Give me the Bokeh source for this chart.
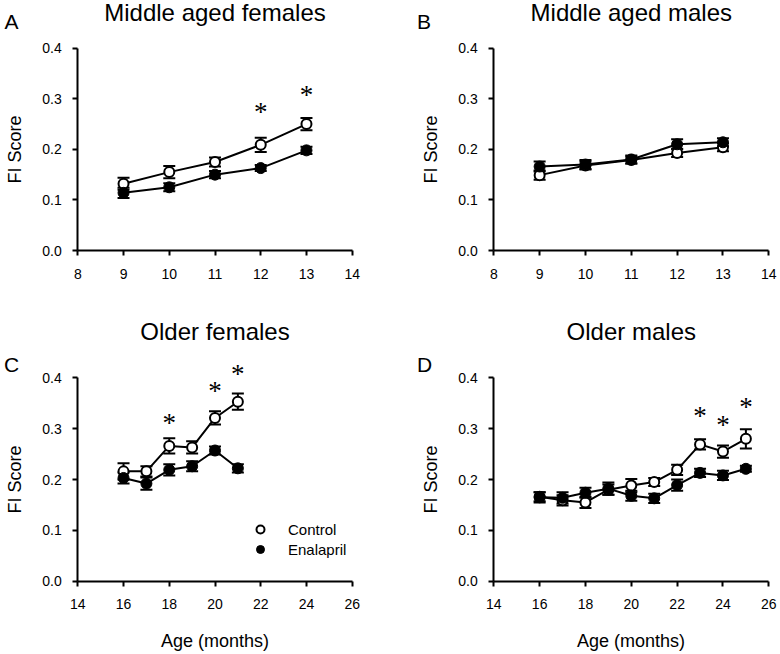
from bokeh.plotting import figure
from bokeh.models import (ColumnDataSource, Whisker, TeeHead, Label, LabelSet, Range1d,
                          FixedTicker, PrintfTickFormatter, Legend, LegendItem, LinearAxis)
from bokeh.layouts import gridplot
from bokeh.embed import file_html
from bokeh.resources import INLINE

FONT = "Liberation Sans"

# ---------------- data ----------------
# A: Middle aged females
a_age = [9, 10, 11, 12, 13]
a_ctrl = [0.132, 0.155, 0.175, 0.209, 0.250]
a_ctrl_err = [0.012, 0.012, 0.009, 0.014, 0.012]
a_enal = [0.114, 0.125, 0.150, 0.163, 0.198]
a_enal_err = [0.010, 0.008, 0.007, 0.006, 0.007]
a_sig_x = [12, 13]
a_sig_y = [0.277, 0.311]

# B: Middle aged males
b_age = [9, 10, 11, 12, 13]
b_ctrl = [0.149, 0.168, 0.179, 0.193, 0.204]
b_ctrl_err = [0.009, 0.008, 0.007, 0.008, 0.008]
b_enal = [0.166, 0.170, 0.180, 0.210, 0.214]
b_enal_err = [0.010, 0.009, 0.008, 0.010, 0.008]
b_sig_x = []
b_sig_y = []

# C: Older females
c_age = [16, 17, 18, 19, 20, 21]
c_ctrl = [0.216, 0.216, 0.266, 0.263, 0.321, 0.353]
c_ctrl_err = [0.016, 0.010, 0.015, 0.012, 0.013, 0.016]
c_enal = [0.203, 0.192, 0.219, 0.226, 0.257, 0.222]
c_enal_err = [0.011, 0.012, 0.011, 0.010, 0.008, 0.008]
c_sig_x = [18, 20, 21]
c_sig_y = [0.316, 0.378, 0.411]

# D: Older males
d_age = [16, 17, 18, 19, 20, 21, 22, 23, 24, 25]
d_ctrl = [0.166, 0.159, 0.155, 0.180, 0.188, 0.195, 0.219, 0.269, 0.255, 0.280]
d_ctrl_err = [0.009, 0.010, 0.011, 0.010, 0.013, 0.008, 0.010, 0.010, 0.012, 0.019]
d_enal = [0.165, 0.164, 0.174, 0.182, 0.168, 0.163, 0.189, 0.213, 0.208, 0.221]
d_enal_err = [0.010, 0.011, 0.010, 0.012, 0.010, 0.009, 0.011, 0.008, 0.009, 0.006]
d_sig_x = [23, 24, 25]
d_sig_y = [0.329, 0.311, 0.346]

y_ticks = [0.0, 0.1, 0.2, 0.3, 0.4]
x_ticks_mid = [8, 9, 10, 11, 12, 13, 14]
x_ticks_old = [14, 16, 18, 20, 22, 24, 26]
x_bounds_mid = (8, 14)
x_bounds_old = (14, 26)
y_bounds = (0.0, 0.4)

titles = ["Middle aged females", "Middle aged males", "Older females", "Older males"]
letters = ["A", "B", "C", "D"]
legend_labels = ["Control", "Enalapril"]
y_label = "FI Score"
x_label = "Age (months)"

# ---------------- layout (pixels) ----------------
W = 390
H_TOP, H_BOT = 314, 340


def px_range(v0, v1, p0, p1, size, flip=False):
    """Range whose values v0/v1 land at pixel p0/p1 of a canvas of `size` px."""
    if flip:  # vertical: pixels measured from top
        p0, p1 = size - p0, size - p1
    k = (v1 - v0) / (p1 - p0)
    return Range1d(v0 - p0 * k, v1 + (size - p1) * k)


def make_panel(title, letter, age, ctrl, ctrl_err, enal, enal_err, sig_x, sig_y,
               xb, xticks, H, ax_px, ay_px, title_xy, letter_xy,
               xlabel=None, legend_loc=None):
    xr = px_range(xb[0], xb[1], ax_px[0], ax_px[1], W)
    yr = px_range(y_bounds[0], y_bounds[1], ay_px[0], ay_px[1], H, flip=True)
    p = figure(width=W, height=H, output_backend="svg", toolbar_location=None,
               x_range=xr, y_range=yr, x_axis_type=None, y_axis_type=None,
               min_border=0, min_border_left=0, min_border_right=0,
               min_border_top=0, min_border_bottom=0)
    p.outline_line_color = None
    p.background_fill_color = "white"
    p.border_fill_color = "white"

    yax = LinearAxis(fixed_location=xb[0], bounds=y_bounds,
                     ticker=FixedTicker(ticks=y_ticks),
                     formatter=PrintfTickFormatter(format="%.1f"),
                     axis_label=y_label)
    xax = LinearAxis(fixed_location=y_bounds[0], bounds=xb,
                     ticker=FixedTicker(ticks=xticks))
    if xlabel:
        xax.axis_label = xlabel
    for ax in (xax, yax):
        ax.axis_line_width = 2
        ax.axis_line_color = "black"
        ax.major_tick_line_width = 2
        ax.major_tick_line_color = "black"
        ax.major_tick_out = 5
        ax.major_tick_in = 0
        ax.minor_tick_line_color = None
        ax.major_label_text_font = FONT
        ax.major_label_text_font_size = "14px"
        ax.major_label_text_color = "black"
        ax.axis_label_text_font = FONT
        ax.axis_label_text_font_size = "18px"
        ax.axis_label_text_font_style = "normal"
        ax.axis_label_text_color = "black"
    yax.major_label_standoff = 11
    yax.axis_label_standoff = 14
    xax.major_label_standoff = 13
    xax.axis_label_standoff = 18
    p.add_layout(yax, "left")
    p.add_layout(xax, "below")

    src = ColumnDataSource(dict(
        x=age, ctrl=ctrl, enal=enal,
        c_up=[v + e for v, e in zip(ctrl, ctrl_err)],
        c_lo=[v - e for v, e in zip(ctrl, ctrl_err)],
        e_up=[v + e for v, e in zip(enal, enal_err)],
        e_lo=[v - e for v, e in zip(enal, enal_err)],
    ))

    for up, lo in (("c_up", "c_lo"), ("e_up", "e_lo")):
        wk = Whisker(base="x", upper=up, lower=lo, source=src, line_width=2,
                     line_color="black",
                     upper_head=TeeHead(size=12, line_width=2, line_color="black"),
                     lower_head=TeeHead(size=12, line_width=2, line_color="black"))
        p.add_layout(wk)

    p.line("x", "ctrl", source=src, line_width=2, line_color="black")
    p.line("x", "enal", source=src, line_width=2, line_color="black")
    r_ctrl = p.scatter("x", "ctrl", source=src, marker="circle", size=10,
                       fill_color="white", line_color="black", line_width=2)
    r_enal = p.scatter("x", "enal", source=src, marker="circle", size=11,
                       fill_color="black", line_color="black", line_width=1)

    if sig_x:
        ssrc = ColumnDataSource(dict(x=sig_x, y=sig_y, t=["*"] * len(sig_x)))
        p.add_layout(LabelSet(x="x", y="y", text="t", source=ssrc,
                              text_align="center", text_baseline="alphabetic",
                              y_offset=-11, text_font=FONT, text_font_size="27px",
                              text_color="black"))

    p.add_layout(Label(x=title_xy[0], y=title_xy[1], x_units="screen", y_units="screen",
                       text=title, text_align="center", text_baseline="alphabetic",
                       text_font=FONT, text_font_size="24px", text_color="black"))
    p.add_layout(Label(x=letter_xy[0], y=letter_xy[1], x_units="screen", y_units="screen",
                       text=letter, text_align="left", text_baseline="alphabetic",
                       text_font=FONT, text_font_size="21px", text_color="black"))

    if legend_loc is not None:
        lg = Legend(items=[LegendItem(label=legend_labels[0], renderers=[r_ctrl]),
                           LegendItem(label=legend_labels[1], renderers=[r_enal])],
                    location=legend_loc, glyph_width=20, glyph_height=20, spacing=0,
                    label_standoff=18, padding=0, margin=0,
                    border_line_color=None, background_fill_alpha=0,
                    label_text_font=FONT, label_text_font_size="15px",
                    label_text_color="black")
        p.add_layout(lg)
    return p


pa = make_panel(titles[0], letters[0], a_age, a_ctrl, a_ctrl_err, a_enal, a_enal_err,
                a_sig_x, a_sig_y, x_bounds_mid, x_ticks_mid, H_TOP,
                (77.3, 351.7), (250.0, 47.7), (214.5, 302), (4, 293))
pb = make_panel(titles[1], letters[1], b_age, b_ctrl, b_ctrl_err, b_enal, b_enal_err,
                b_sig_x, b_sig_y, x_bounds_mid, x_ticks_mid, H_TOP,
                (103.3, 378.3), (250.0, 47.7), (240.8, 302), (26.5, 293))
pc = make_panel(titles[2], letters[2], c_age, c_ctrl, c_ctrl_err, c_enal, c_enal_err,
                c_sig_x, c_sig_y, x_bounds_old, x_ticks_old, H_BOT,
                (77.3, 351.7), (266.7, 63.3), (214.5, 323), (3.5, 290),
                xlabel=x_label, legend_loc=(250, 95))
pd_ = make_panel(titles[3], letters[3], d_age, d_ctrl, d_ctrl_err, d_enal, d_enal_err,
                 d_sig_x, d_sig_y, x_bounds_old, x_ticks_old, H_BOT,
                 (103.3, 378.3), (266.7, 63.3), (240.8, 323), (26.5, 290),
                 xlabel=x_label)

grid = gridplot([[pa, pb], [pc, pd_]], toolbar_location=None)

open("out.html", "w").write(file_html(grid, INLINE))
